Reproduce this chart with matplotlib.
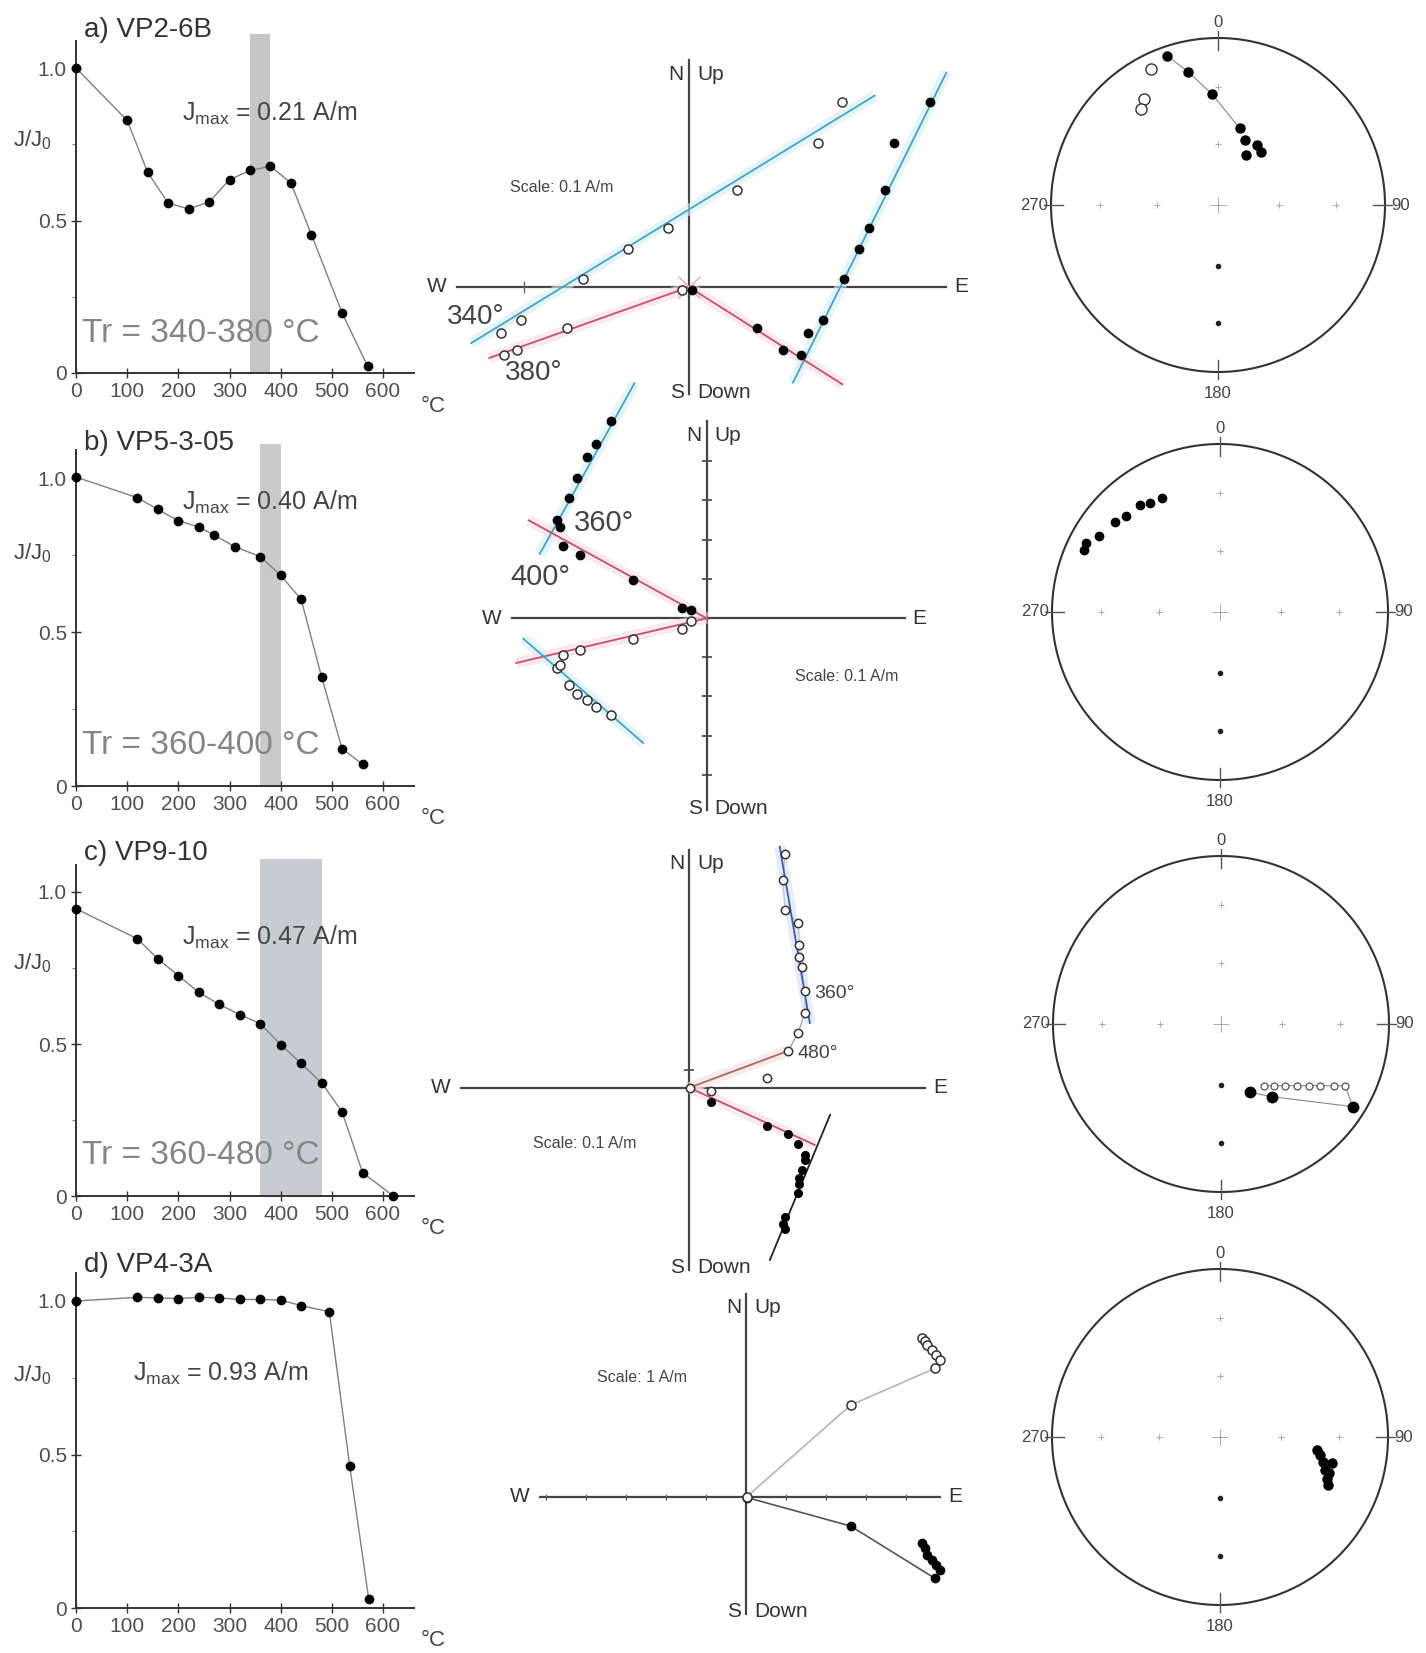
import numpy as np
import matplotlib.pyplot as plt

plt.rcParams['font.family'] = ['Liberation Sans', 'DejaVu Sans']
plt.rcParams['mathtext.fontset'] = 'custom'
plt.rcParams['mathtext.rm'] = 'Liberation Sans'

W, H = 1426, 1653

# ---------------- thermal demagnetisation: J/J0 against temperature ----------------
a_temp = [0, 100, 140, 180, 220, 260, 300, 340, 380, 420, 460, 520, 570]
a_j = [1.0, 0.828, 0.658, 0.557, 0.538, 0.560, 0.634, 0.664, 0.678, 0.623, 0.454, 0.197, 0.022]
b_temp = [0, 120, 160, 200, 240, 270, 310, 360, 400, 440, 480, 520, 560]
b_j = [1.003, 0.936, 0.898, 0.861, 0.841, 0.815, 0.777, 0.745, 0.684, 0.606, 0.354, 0.121, 0.071]
c_temp = [0, 120, 160, 200, 240, 280, 320, 360, 400, 440, 480, 520, 560, 620]
c_j = [0.945, 0.846, 0.780, 0.725, 0.670, 0.630, 0.597, 0.567, 0.498, 0.436, 0.372, 0.277, 0.077, 0.0]
d_temp = [0, 120, 160, 200, 240, 280, 320, 360, 400, 440, 495, 535, 572]
d_j = [1.0, 1.012, 1.010, 1.008, 1.012, 1.010, 1.005, 1.005, 1.003, 0.985, 0.965, 0.462, 0.03]

titles = ['a) VP2-6B', 'b) VP5-3-05', 'c) VP9-10', 'd) VP4-3A']
jmax = ['0.21', '0.40', '0.47', '0.93']
tr_ranges = [(340, 380), (360, 400), (360, 480), None]

# ---------------- orthogonal vector plots (A/m) ----------------
# a) shares the ordinate between the two projections
za_y = [0.112, 0.087, 0.059, 0.036, 0.023, 0.005, -0.020, -0.028, -0.041, -0.038, -0.025, -0.002]
za_x_filled = [0.146, 0.124, 0.119, 0.109, 0.103, 0.094, 0.081, 0.072, 0.068, 0.057, 0.041, 0.002]
za_x_open = [0.093, 0.078, 0.029, -0.013, -0.037, -0.064, -0.102, -0.114, -0.112, -0.104, -0.074, -0.004]
za_fits = [([-0.132, 0.1125], [-0.034, 0.116], 'cyan'),
           ([0.063, 0.156], [-0.058, 0.130], 'cyan'),
           ([-0.121, 0.0], [-0.043, 0.0], 'red'),
           ([0.0, 0.093], [0.0, -0.059], 'red')]

zb_x = [-0.122, -0.141, -0.153, -0.166, -0.176, -0.191, -0.187, -0.183, -0.162, -0.094, -0.031, -0.020]
zb_y_filled = [0.252, 0.222, 0.206, 0.179, 0.154, 0.126, 0.117, 0.092, 0.081, 0.049, 0.013, 0.011]
zb_y_open = [-0.123, -0.113, -0.104, -0.097, -0.085, -0.064, -0.060, -0.047, -0.041, -0.027, -0.014, -0.004]
zb_fits = [([-0.213, -0.092], [0.082, 0.300], 'cyan'),
           ([-0.227, 0.0], [0.125, 0.0], 'red'),
           ([-0.243, 0.0], [-0.057, 0.0], 'red'),
           ([-0.234, -0.081], [-0.026, -0.159], 'cyan')]

zc_x = [0.156, 0.152, 0.156, 0.177, 0.179, 0.178, 0.183, 0.188, 0.188, 0.177, 0.161, 0.126, 0.036, 0.001]
zc_y_open = [0.380, 0.338, 0.289, 0.267, 0.232, 0.213, 0.196, 0.158, 0.122, 0.089, 0.060, 0.015, -0.005, 0.0]
zc_y_filled = [-0.229, -0.221, -0.210, -0.172, -0.156, -0.147, -0.134, -0.118, -0.109, -0.091, -0.075,
               -0.062, -0.023, 0.0]
zc_fits = [([0.147, 0.196], [0.392, 0.105], 'blue'),
           ([0.161, 0.0], [0.060, 0.0], 'brown'),
           ([0.0, 0.204], [0.0, -0.093], 'red'),
           ([0.229, 0.131], [-0.044, -0.280], 'black')]

zd_x = [0.659, 0.669, 0.679, 0.697, 0.712, 0.727, 0.708, 0.392, 0.003]
zd_y_open = [0.593, 0.584, 0.568, 0.549, 0.531, 0.512, 0.481, 0.343, 0.0]
zd_y_filled = [-0.175, -0.194, -0.218, -0.237, -0.256, -0.275, -0.306, -0.110, -0.003]

# ---------------- equal-area stereonets (declination, inclination) ----------------
sa_dec = [341.2, 347.3, 356.9, 15.8, 22.3, 33.2, 29.5, 38.7, 333.8, 324.9, 321.3]
sa_inc = [6.4, 19.3, 33.8, 50.6, 55.4, 54.6, 61.8, 56.4, -10.4, -23.6, -27.5]
sb_dec = [333.0, 327.3, 323.3, 315.7, 310.6, 302.1, 297.2, 294.6]
sb_inc = [24.6, 23.9, 21.4, 21.0, 18.8, 16.3, 11.3, 12.0]
sc_dec = [157.2, 144.9, 122.1, 145.3, 139.5, 133.8, 129.1, 125.1, 121.9, 118.7, 116.4]
sc_inc = [53.7, 46.1, 8.2, -53.2, -50.1, -46.0, -41.3, -36.4, -31.0, -24.5, -18.5]
sd_dec = [97.4, 100.4, 103.1, 103.7, 107.6, 108.2, 111.3, 114.0]
sd_inc = [41.2, 39.3, 32.2, 37.2, 34.7, 32.0, 32.4, 30.1]

fit_colors = {'cyan': ('#3fa6c8', '#d6eef5'), 'red': ('#c8506e', '#f8dde3'),
              'blue': ('#3a5fae', '#d5e0f4'), 'brown': ('#a86d5c', '#f6dde0'),
              'black': ('#222222', None)}

fig = plt.figure(figsize=(W / 100, H / 100), dpi=100)
fig.patch.set_facecolor('white')


def fbox(l, t, r, b):
    return [l / W, 1 - b / H, (r - l) / W, (b - t) / H]


def ftext(x, y, s, **kw):
    kw.setdefault('ha', 'left')
    kw.setdefault('va', 'center')
    kw.setdefault('color', '#333333')
    fig.text(x / W, 1 - y / H, s, **kw)


# left column
X0, PX_T = 76, 0.5117
rows = [(373, 305), (786, 308), (1196, 304), (1608, 307)]
demag = [(a_temp, a_j), (b_temp, b_j), (c_temp, c_j), (d_temp, d_j)]
band_colors = ['#c6c6c6', '#cacaca', '#c8ccd1', None]
jmax_pos = [(182, 113), (182, 502), (182, 937), (133, 1373)]

for i, (temp, jj) in enumerate(demag):
    y0, pyu = rows[i]
    ax = fig.add_axes(fbox(X0, y0 - 1.11 * pyu, X0 + 660 * PX_T, y0))
    ax.set_xlim(0, 660)
    ax.set_ylim(0, 1.11)
    ax.patch.set_alpha(0)
    if tr_ranges[i]:
        ax.axvspan(*tr_ranges[i], color=band_colors[i], lw=0, zorder=0)
    ax.plot(temp, jj, color='#808080', lw=1.0, zorder=2, clip_on=False)
    ax.plot(temp, jj, 'o', color='black', ms=6, zorder=3, clip_on=False)
    for s in ['top', 'right']:
        ax.spines[s].set_visible(False)
    for s in ['left', 'bottom']:
        ax.spines[s].set_color('#333333')
        ax.spines[s].set_linewidth(1.4)
    ax.spines['left'].set_bounds(0, 1.09)
    ax.set_xticks(range(0, 700, 100))
    ax.set_yticks([0, 0.5, 1.0])
    ax.set_yticklabels(['0', '0.5', '1.0'])
    ax.set_yticks([0.25, 0.75], minor=True)
    ax.tick_params(direction='inout', length=7, width=1, colors='#333333',
                   labelcolor='#505050', labelsize=15, pad=3)
    ax.tick_params(which='minor', direction='out', length=3, width=0.8, colors='#888888')

    ftext(84, y0 - 343, titles[i], fontsize=20, va='center', color='#333333')
    ftext(13, y0 - 233, r'J/J$_{\mathregular{0}}$', fontsize=16, color='#444444')
    ftext(421, y0 + 33, '°C', fontsize=16, color='#444444')
    jx, jy = jmax_pos[i]
    ftext(jx, jy, r'J$_{\mathregular{max}}$ = ' + jmax[i] + ' A/m', fontsize=18, color='#444444')
    if i < 3:
        t0, t1 = tr_ranges[i]
        ftext(82, y0 - 40, f'Tr = {t0}-{t1} °C', fontsize=24, color='#858585')


# middle column: orthogonal vector plots
def vector_axes(ox, oy, ppu, box):
    l, t, r, b = box
    ax = fig.add_axes(fbox(l, t, r, b))
    ax.set_xlim((l - ox) / ppu, (r - ox) / ppu)
    ax.set_ylim((oy - b) / ppu, (oy - t) / ppu)
    ax.axis('off')
    return ax


def cross(ax, ox, oy, ppu, hext, vext, ticks_h=(), ticks_v=(), tick_ms=9):
    ax.plot([hext[0] / ppu, hext[1] / ppu], [0, 0], color='#444444', lw=1.6, zorder=1)
    ax.plot([0, 0], [vext[0] / ppu, vext[1] / ppu], color='#444444', lw=1.6, zorder=1)
    if len(ticks_h):
        ax.plot(np.array(ticks_h) / ppu, np.zeros(len(ticks_h)), ls='none', marker='|',
                ms=tick_ms, mew=1.0, color='#666666')
    if len(ticks_v):
        ax.plot(np.zeros(len(ticks_v)), np.array(ticks_v) / ppu, ls='none', marker='_',
                ms=tick_ms, mew=1.2, color='#444444')
    ftext(ox + hext[0] - 30, oy, 'W', fontsize=15)
    ftext(ox + hext[1] + 8, oy, 'E', fontsize=15)
    ftext(ox - 5, oy - vext[1] + 14, 'N', fontsize=15, ha='right')
    ftext(ox + 8, oy - vext[1] + 14, 'Up', fontsize=15)
    ftext(ox - 5, oy - vext[0] - 2, 'S', fontsize=15, ha='right')
    ftext(ox + 8, oy - vext[0] - 2, 'Down', fontsize=15)


def draw_fits(ax, fits):
    for xs, ys, c in fits:
        line, halo = fit_colors[c]
        if halo:
            ax.plot(xs, ys, color=halo, lw=8, alpha=0.6, solid_capstyle='butt', zorder=2)
        ax.plot(xs, ys, color=line, lw=1.3, zorder=3)


def vec_points(ax, x_f, y_f, x_o, y_o, ms=6):
    ax.plot(x_f, y_f, 'o', ms=ms, color='black', zorder=5)
    ax.plot(x_o, y_o, 'o', ms=ms + 0.5, mfc='white', mec='#333333', mew=1.1, zorder=5)


# a)
ox, oy, ppu = 689, 287, 1650
ax = vector_axes(ox, oy, ppu, (440, 30, 960, 410))
cross(ax, ox, oy, ppu, (-232, 257), (-107, 227), ticks_h=[-165])
draw_fits(ax, za_fits)
ax.plot([0], [0], marker='x', ms=16, mew=1.0, color='#e8a8b6', zorder=4)
vec_points(ax, za_x_filled, za_y, za_x_open, za_y)
ftext(562, 187, 'Scale: 0.1 A/m', fontsize=11.5, color='#444444', ha='center')
ftext(447, 317, '340°', fontsize=20, color='#444444')
ftext(505, 373, '380°', fontsize=20, color='#444444')

# b)
ox, oy, ppu = 706.7, 618.3, 784
ax = vector_axes(ox, oy, ppu, (440, 380, 960, 830))
cross(ax, ox, oy, ppu, (-195, 198), (-192, 197),
      ticks_v=[-157, -118, -78, -39, 39, 78, 118, 157], tick_ms=7)
draw_fits(ax, zb_fits)
vec_points(ax, zb_x, zb_y_filled, zb_x, zb_y_open)
ftext(847, 676, 'Scale: 0.1 A/m', fontsize=11.5, color='#444444', ha='center')
ftext(574, 523, '360°', fontsize=21, color='#444444')
ftext(510, 577, '400°', fontsize=21, color='#444444')

# c)
ox, oy, ppu = 689.3, 1087.7, 615
ax = vector_axes(ox, oy, ppu, (430, 830, 960, 1290))
cross(ax, ox, oy, ppu, (-228, 236), (-182, 238), ticks_v=[18], tick_ms=7)
ax.plot(zc_x[:11], zc_y_open[:11], color='#a0a0a0', lw=0.9, zorder=2)
draw_fits(ax, zc_fits)
vec_points(ax, zc_x, zc_y_filled, zc_x, zc_y_open, ms=5.5)
ftext(585, 1143, 'Scale: 0.1 A/m', fontsize=11.5, color='#444444', ha='center')
ftext(814, 993, '360°', fontsize=14, color='#444444')
ftext(797, 1054, '480°', fontsize=14, color='#444444')

# d)
ox, oy, ppu = 746, 1496.7, 267
ax = vector_axes(ox, oy, ppu, (440, 1270, 990, 1653))
cross(ax, ox, oy, ppu, (-206, 194), (-117, 203),
      ticks_h=[-200, -160, -120, -80, -40, 40, 80, 120, 160], tick_ms=5)
ax.plot(zd_x, zd_y_open, color='#b5b5b5', lw=1.2, zorder=2)
ax.plot(zd_x, zd_y_filled, color='#555555', lw=1.2, zorder=2)
vec_points(ax, zd_x, zd_y_filled, zd_x, zd_y_open, ms=6)
ftext(642, 1377, 'Scale: 1 A/m', fontsize=11.5, color='#444444', ha='center')


# right column: equal-area projections
def eqarea(dec, inc):
    d = np.radians(dec)
    r = np.sqrt(2) * np.sin(np.radians(90 - np.abs(np.asarray(inc))) / 2)
    return r * np.sin(d), r * np.cos(d)


def stereonet(cx, cy, R):
    ax = fig.add_axes(fbox(cx - R, cy - R, cx + R, cy + R))
    ax.set_xlim(-1, 1)
    ax.set_ylim(-1, 1)
    ax.axis('off')
    th = np.linspace(0, 2 * np.pi, 400)
    ax.plot(np.cos(th), np.sin(th), color='#333333', lw=1.5, clip_on=False)
    for a in np.radians([0, 90, 180, 270]):
        ax.plot([0.93 * np.sin(a), 1.04 * np.sin(a)], [0.93 * np.cos(a), 1.04 * np.cos(a)],
                color='#555555', lw=1.0, clip_on=False)
    rr = eqarea([0, 0], [60, 30])[1]
    gx = [0, 0, rr[0], rr[1], -rr[0], -rr[1]]
    gy = [rr[0], rr[1], 0, 0, 0, 0]
    ax.plot(gx, gy, ls='none', marker='+', ms=5, mew=0.7, color='#a8a8a8')
    ax.plot([0, 0], [-rr[0], -rr[1]], ls='none', marker='o', ms=3, color='#222222')
    ax.plot([0], [0], marker='+', ms=11, mew=0.7, color='#a8a8a8')
    kw = dict(fontsize=12, color='#444444', clip_on=False)
    ax.text(0, 1.09, '0', ha='center', va='center', **kw)
    ax.text(0, -1.13, '180', ha='center', va='center', **kw)
    ax.text(-1.02, 0, '270', ha='right', va='center', **kw)
    ax.text(1.04, 0, '90', ha='left', va='center', **kw)
    return ax


def stereo_points(ax, dec, inc, ms=6.5, ms_open=None):
    dec = np.asarray(dec)
    inc = np.asarray(inc)
    x, y = eqarea(dec, inc)
    down = inc >= 0
    ax.plot(x[down], y[down], 'o', ms=ms, color='black', zorder=5, clip_on=False)
    ax.plot(x[~down], y[~down], 'o', ms=ms_open or ms, mfc='white', mec='#333333', mew=1.0,
            zorder=5, clip_on=False)
    return x, y


ax = stereonet(1218, 205, 167)
x, y = stereo_points(ax, sa_dec, sa_inc, ms=6.5, ms_open=8)
ax.plot(x[:4], y[:4], color='#888888', lw=0.8, zorder=2)

ax = stereonet(1220, 612, 168)
stereo_points(ax, sb_dec, sb_inc, ms=6)

ax = stereonet(1221, 1024, 168)
x, y = eqarea(np.asarray(sc_dec), np.asarray(sc_inc))
ax.plot(list(x[3:]) + [x[2]], list(y[3:]) + [y[2]], color='#8a8a8a', lw=0.8, zorder=2)
ax.plot(x[:3], y[:3], color='#8a8a8a', lw=0.8, zorder=2)
sx, sy = eqarea(np.asarray(sc_dec[:3]), np.asarray(sc_inc[:3]))
ax.plot(sx, sy, 'o', ms=7.5, color='black', zorder=5)
ox_, oy_ = eqarea(np.asarray(sc_dec[3:]), np.asarray(sc_inc[3:]))
ax.plot(ox_, oy_, 'o', ms=5, mfc='white', mec='#555555', mew=0.9, zorder=5)

ax = stereonet(1220, 1437, 168)
stereo_points(ax, sd_dec, sd_inc, ms=6.5)

fig.savefig('out.png', dpi=100)
